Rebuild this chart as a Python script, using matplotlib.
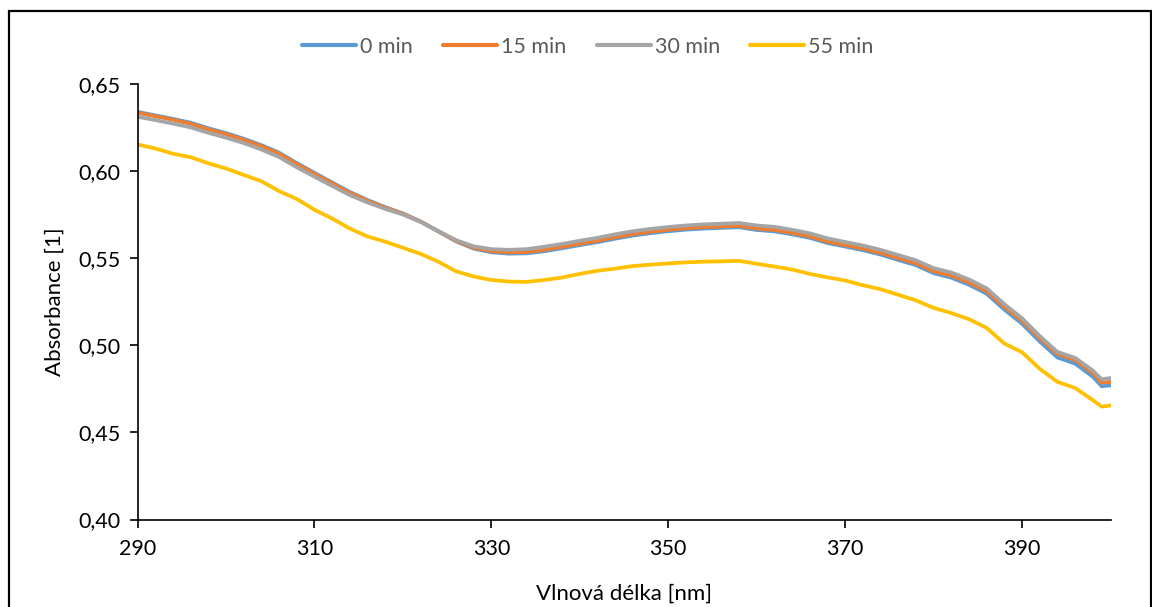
import matplotlib
matplotlib.use("Agg")
import matplotlib.pyplot as plt
from matplotlib.lines import Line2D

# vlnové délky [nm]
wl = [290, 292, 294, 296, 298, 300, 302, 304, 306, 308, 310, 312, 314, 316, 318,
      320, 322, 324, 326, 328, 330, 332, 334, 336, 338, 340, 342, 344, 346, 348,
      350, 352, 354, 356, 358, 360, 362, 364, 366, 368, 370, 372, 374, 376, 378,
      380, 382, 384, 386, 388, 390, 392, 394, 396, 398, 399, 400]

a_0 = [0.6340, 0.6320, 0.6300, 0.6278, 0.6246, 0.6218, 0.6186, 0.6149, 0.6106, 0.6046,
       0.5990, 0.5935, 0.5880, 0.5834, 0.5793, 0.5757, 0.5711, 0.5654, 0.5597, 0.5555,
       0.5534, 0.5526, 0.5528, 0.5540, 0.5557, 0.5575, 0.5592, 0.5612, 0.5630, 0.5644,
       0.5655, 0.5664, 0.5670, 0.5674, 0.5678, 0.5662, 0.5654, 0.5637, 0.5617, 0.5587,
       0.5567, 0.5546, 0.5521, 0.5490, 0.5460, 0.5414, 0.5388, 0.5348, 0.5296, 0.5205,
       0.5124, 0.5022, 0.4930, 0.4895, 0.4820, 0.4765, 0.4770]

a_15 = [0.6335, 0.6315, 0.6295, 0.6272, 0.6240, 0.6212, 0.6180, 0.6143, 0.6100, 0.6040,
        0.5985, 0.5930, 0.5875, 0.5830, 0.5790, 0.5755, 0.5710, 0.5655, 0.5600, 0.5560,
        0.5540, 0.5533, 0.5535, 0.5548, 0.5565, 0.5583, 0.5600, 0.5620, 0.5638, 0.5652,
        0.5663, 0.5672, 0.5678, 0.5682, 0.5686, 0.5670, 0.5662, 0.5645, 0.5625, 0.5595,
        0.5575, 0.5555, 0.5530, 0.5500, 0.5470, 0.5425, 0.5400, 0.5360, 0.5310, 0.5220,
        0.5140, 0.5040, 0.4950, 0.4915, 0.4840, 0.4785, 0.4790]

a_30 = [0.6312, 0.6293, 0.6273, 0.6251, 0.6220, 0.6192, 0.6161, 0.6124, 0.6081, 0.6022,
        0.5968, 0.5915, 0.5862, 0.5820, 0.5783, 0.5751, 0.5708, 0.5656, 0.5604, 0.5568,
        0.5552, 0.5548, 0.5552, 0.5566, 0.5582, 0.5600, 0.5617, 0.5637, 0.5655, 0.5668,
        0.5679, 0.5688, 0.5694, 0.5698, 0.5702, 0.5688, 0.5680, 0.5663, 0.5643, 0.5614,
        0.5593, 0.5573, 0.5548, 0.5518, 0.5488, 0.5443, 0.5418, 0.5378, 0.5327, 0.5236,
        0.5155, 0.5053, 0.4962, 0.4928, 0.4855, 0.4805, 0.4812]

a_55 = [0.6153, 0.6130, 0.6100, 0.6080, 0.6045, 0.6015, 0.5978, 0.5942, 0.5885, 0.5840,
        0.5778, 0.5728, 0.5670, 0.5625, 0.5595, 0.5560, 0.5525, 0.5480, 0.5425, 0.5395,
        0.5375, 0.5366, 0.5364, 0.5375, 0.5389, 0.5410, 0.5428, 0.5440, 0.5455, 0.5463,
        0.5470, 0.5476, 0.5480, 0.5482, 0.5485, 0.5468, 0.5452, 0.5435, 0.5410, 0.5390,
        0.5372, 0.5345, 0.5322, 0.5290, 0.5258, 0.5215, 0.5185, 0.5150, 0.5100, 0.5010,
        0.4960, 0.4865, 0.4790, 0.4755, 0.4685, 0.4648, 0.4655]

labels = ["0 min", "15 min", "30 min", "55 min"]
colors = ["#5B9BD5", "#ED7D31", "#A5A5A5", "#FFC000"]
x_ticks = [290, 310, 330, 350, 370, 390]
y_ticks = [0.40, 0.45, 0.50, 0.55, 0.60, 0.65]

plt.rcParams['font.family'] = ['Lato', 'DejaVu Sans']

fig = plt.figure(figsize=(11.52, 6.07), dpi=100)
ax = fig.add_axes([137.5 / 1152, 1 - 519.5 / 607, 973 / 1152, 435.5 / 607])

for y, lab, c in zip([a_0, a_15, a_30, a_55], labels, colors):
    ax.plot(wl, y, color=c, lw=2.7, label=lab, solid_capstyle='round',
            solid_joinstyle='round')

ax.set_xlim(290, 400)
ax.set_ylim(0.40, 0.65)
ax.set_xticks(x_ticks)
ax.set_yticks(y_ticks)
ax.set_yticklabels([f"{v:.2f}".replace('.', ',') for v in y_ticks])
ax.tick_params(axis='both', direction='out', length=6, width=1.2, labelsize=15.5,
               colors='black', pad=6)
ax.tick_params(axis='x', pad=8)

for s in ['top', 'right']:
    ax.spines[s].set_visible(False)
for s in ['left', 'bottom']:
    ax.spines[s].set_linewidth(1.2)
    ax.spines[s].set_color('black')

ax.set_xlabel("Vlnová délka [nm]", fontsize=16, labelpad=18)
ax.set_ylabel("Absorbance [1]", fontsize=16, labelpad=10)

handles = [Line2D([], [], color=c, lw=3, solid_capstyle='round') for c in colors]
leg = fig.legend(handles, labels, loc='center', bbox_to_anchor=(588 / 1152, 1 - 47 / 607),
                 ncol=4, frameon=False, fontsize=15.5, handlelength=2.5, handletextpad=0.2,
                 columnspacing=1.4)
for t in leg.get_texts():
    t.set_color('#595959')

# rámeček kolem grafu
fig.add_artist(plt.Rectangle((8.5 / 1152, -0.1), 1142.5 / 1152, 1.1 - 10.5 / 607,
                             transform=fig.transFigure, fill=False, ec='black', lw=1.6,
                             clip_on=False))

fig.savefig("out.png", dpi=100)
